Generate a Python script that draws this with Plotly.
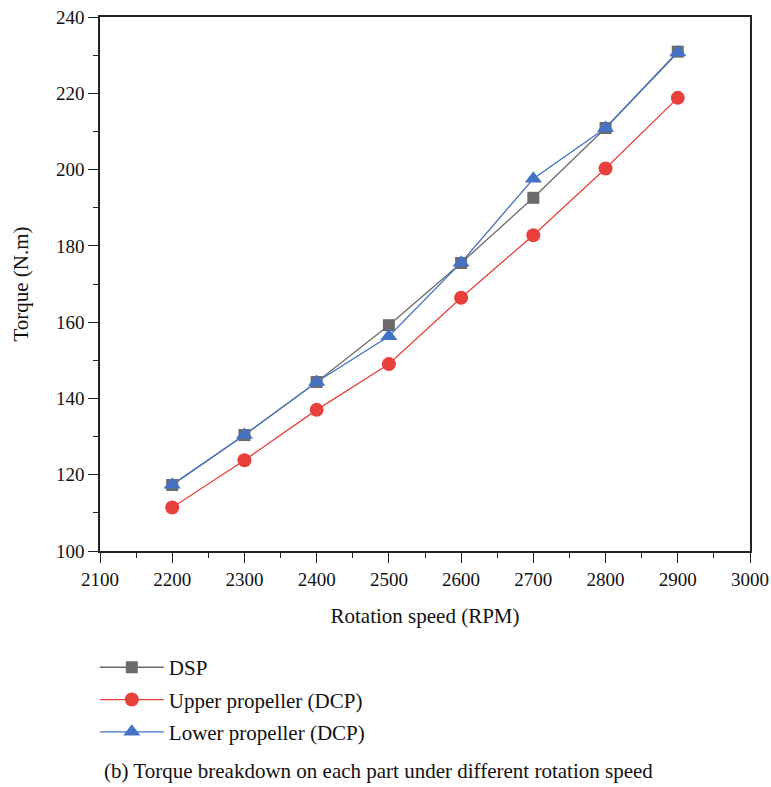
import plotly.graph_objects as go

rpm = [2200, 2300, 2400, 2500, 2600, 2700, 2800, 2900]
dsp = [117.3, 130.4, 144.3, 159.2, 175.5, 192.6, 210.9, 230.9]
upper = [111.4, 123.8, 137.0, 149.0, 166.4, 182.8, 200.3, 218.8]
lower = [117.4, 130.4, 144.3, 156.3, 175.6, 197.6, 210.9, 230.7]

FONT = "Liberation Serif"

fig = go.Figure()
fig.add_trace(go.Scatter(x=rpm, y=dsp, name="DSP", mode="lines+markers",
                         line=dict(color="#6b6b6b", width=1.3),
                         marker=dict(symbol="square", size=12, color="#6b6b6b"),
                         legendgroup="a"))
fig.add_trace(go.Scatter(x=rpm, y=upper, name="Upper propeller (DCP)", mode="lines+markers",
                         line=dict(color="#e8403c", width=1.3),
                         marker=dict(symbol="circle", size=14, color="#e8403c"),
                         legendgroup="b"))
fig.add_trace(go.Scatter(x=rpm, y=lower, name="Lower propeller (DCP)", mode="lines+markers",
                         line=dict(color="#4472c4", width=1.3),
                         marker=dict(symbol="triangle-up", size=15, color="#4472c4"),
                         legendgroup="c"))

axis_common = dict(showgrid=False, zeroline=False, showline=True, linecolor="#222",
                   linewidth=1.5, mirror=True, ticks="outside", ticklen=10,
                   tickwidth=1.3, tickcolor="#222", ticklabeloverflow="allow",
                   tickfont=dict(family=FONT, size=19, color="#111"))

fig.update_layout(
    width=771, height=787,
    margin=dict(l=100, r=21, t=17, b=236, autoexpand=False),
    paper_bgcolor="white", plot_bgcolor="white",
    font=dict(family=FONT, size=21, color="#111"),
    xaxis=dict(range=[2100, 3000], dtick=100, tick0=2100,
               minor=dict(dtick=50, ticks="outside", ticklen=5, tickcolor="#222", tickwidth=1.2),
               title=dict(text="Rotation speed (RPM)", font=dict(family=FONT, size=21), standoff=20),
               **axis_common),
    yaxis=dict(range=[100, 240], dtick=20, tick0=100,
               minor=dict(dtick=10, ticks="outside", ticklen=5, tickcolor="#222", tickwidth=1.2),
               title=dict(text="Torque (N.m)", font=dict(family=FONT, size=21), standoff=22),
               **axis_common),
    legend=dict(x=-0.008, y=-0.18, xanchor="left", yanchor="top",
                font=dict(family=FONT, size=21), itemwidth=64,
                tracegroupgap=2, bgcolor="rgba(0,0,0,0)"),
    showlegend=True,
)

fig.add_annotation(text="(b) Torque breakdown on each part under different rotation speed",
                   xref="paper", yref="paper", x=0.003, y=-0.412, xanchor="left", yanchor="middle",
                   showarrow=False, font=dict(family=FONT, size=21, color="#111"))

fig.write_html("out.html", config={"displayModeBar": False},
               post_script="document.body.style.margin='0';document.body.style.overflow='hidden';")
